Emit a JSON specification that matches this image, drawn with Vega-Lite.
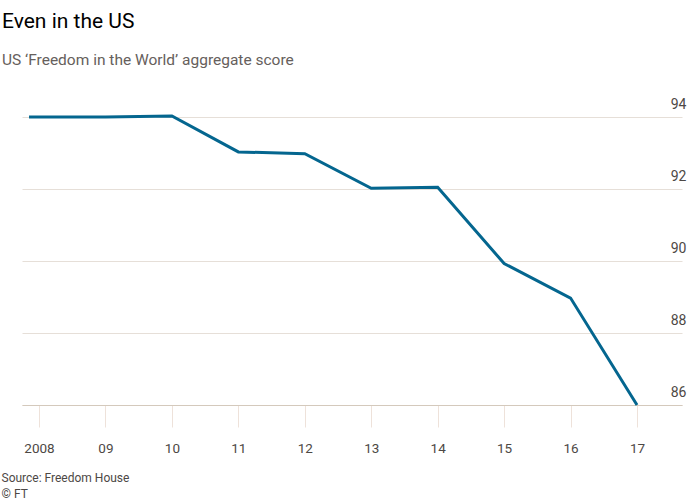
{
  "$schema": "https://vega.github.io/schema/vega-lite/v6.json",
  "width": 660,
  "height": 288,
  "autosize": "none",
  "padding": {"left": 22, "top": 117, "right": 18, "bottom": 95},
  "background": "#ffffff",
  "title": {
    "text": "Even in the US",
    "subtitle": "US ‘Freedom in the World’ aggregate score",
    "anchor": "start",
    "frame": "group",
    "dx": -20,
    "offset": 29,
    "font": "Roboto",
    "fontSize": 21,
    "fontWeight": "normal",
    "color": "#000000",
    "subtitleFont": "Roboto",
    "subtitleFontSize": 15.5,
    "subtitleColor": "#66605c",
    "subtitlePadding": 21
  },
  "data": {
    "values": [
      {"year": 2007.85, "score": 94},
      {"year": 2008, "score": 94},
      {"year": 2009, "score": 94},
      {"year": 2010, "score": 94.03},
      {"year": 2011, "score": 93.03},
      {"year": 2012, "score": 92.98},
      {"year": 2013, "score": 92.02},
      {"year": 2014, "score": 92.05},
      {"year": 2015, "score": 89.93},
      {"year": 2016, "score": 88.97},
      {"year": 2017, "score": 86}
    ]
  },
  "mark": {"type": "line", "color": "#04668f", "strokeWidth": 3, "strokeJoin": "miter"},
  "encoding": {
    "x": {
      "field": "year",
      "type": "quantitative",
      "scale": {"domain": [2007.744, 2017.677], "nice": false, "zero": false},
      "axis": {
        "values": [2008, 2009, 2010, 2011, 2012, 2013, 2014, 2015, 2016, 2017],
        "labelExpr": "datum.value == 2008 ? '2008' : substring(toString(datum.value), 2)",
        "grid": false,
        "domain": true,
        "domainColor": "#d4c9bc",
        "domainWidth": 1,
        "ticks": true,
        "tickSize": 22,
        "tickColor": "#eee2da",
        "tickWidth": 1,
        "labelPadding": 14,
        "labelFont": "Roboto",
        "labelFontSize": 13.5,
        "labelColor": "#4d4845",
        "title": ["Source: Freedom House", "© FT"],
        "titleAnchor": "start",
        "titleAlign": "left",
        "titleX": -21,
        "titleY": 76,
        "titleBaseline": "alphabetic",
        "titleFont": "Roboto",
        "titleFontSize": 12,
        "titleFontWeight": "normal",
        "titleColor": "#4d4845",
        "titleLineHeight": 16
      }
    },
    "y": {
      "field": "score",
      "type": "quantitative",
      "scale": {"domain": [86, 94], "nice": false, "zero": false},
      "axis": {
        "orient": "right",
        "values": [86, 88, 90, 92, 94],
        "domain": false,
        "ticks": false,
        "grid": true,
        "gridColor": "#e6dfd8",
        "gridWidth": 1,
        "labelAlign": "right",
        "labelBaseline": "alphabetic",
        "labelPadding": 4,
        "labelOffset": -9,
        "labelFont": "Roboto",
        "labelFontSize": 14,
        "labelColor": "#4d4845",
        "title": null
      }
    }
  },
  "config": {"view": {"stroke": null}}
}
